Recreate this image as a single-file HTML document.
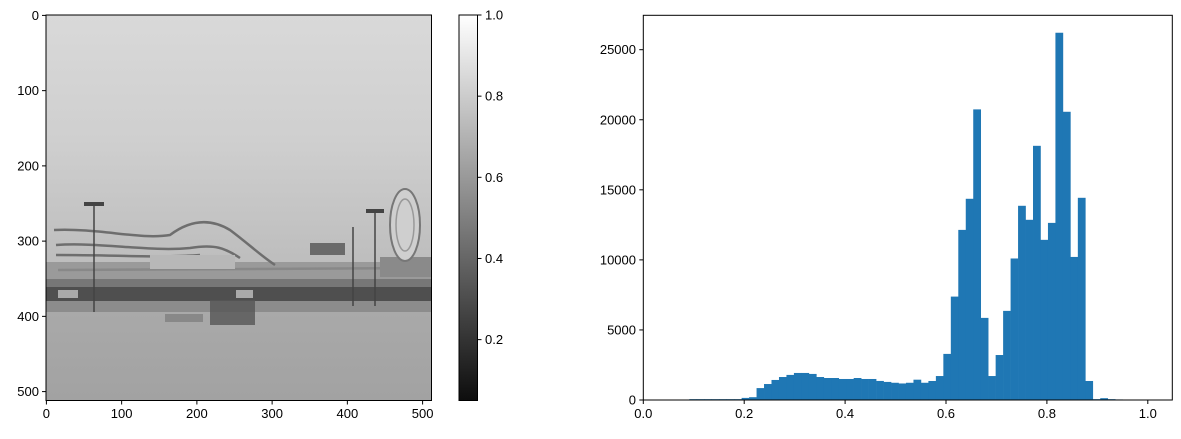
<!DOCTYPE html>
<html><head><meta charset="utf-8">
<style>
html,body{margin:0;padding:0;background:#fff;}
svg text{font-family:"Liberation Sans","DejaVu Sans",sans-serif;font-size:13px;fill:#000;}
</style></head>
<body>
<svg id="fig" width="1181" height="434" viewBox="0 0 1181 434" xmlns="http://www.w3.org/2000/svg">
<defs>
<linearGradient id="sky" x1="0" y1="0" x2="0" y2="1">
<stop offset="0" stop-color="#d9d9d9"/><stop offset="0.5" stop-color="#cfcfcf"/><stop offset="1" stop-color="#bdbdbd"/>
</linearGradient>
<linearGradient id="sand" x1="0" y1="0" x2="0" y2="1">
<stop offset="0" stop-color="#a9a9a9"/><stop offset="1" stop-color="#a2a2a2"/>
</linearGradient>
<linearGradient id="cbar" x1="0" y1="1" x2="0" y2="0">
<stop offset="0" stop-color="#0d0d0d"/><stop offset="1" stop-color="#ffffff"/>
</linearGradient>
<clipPath id="imgclip"><rect x="46" y="15" width="385.5" height="385.5"/></clipPath>
</defs>

<g clip-path="url(#imgclip)">
<rect x="46" y="15" width="386" height="250" fill="url(#sky)"/>
<rect x="46" y="262" width="386" height="25" fill="#9a9a9a"/>
<g fill="none" stroke="#6e6e6e" stroke-width="2.5">
<path d="M54 230 C100 228 140 240 170 235 C190 220 210 218 230 230 C250 245 260 255 275 265"/>
<path d="M56 245 C100 242 150 252 190 248 C215 244 225 248 240 258"/>
<path d="M56 255 C120 255 160 258 200 255"/>
<path d="M58 270 L430 268" stroke="#888"/>
</g>
<rect x="150" y="255" width="85" height="14" fill="#b8b8b8"/>
<rect x="310" y="243" width="35" height="12" fill="#6a6a6a"/>
<rect x="380" y="257" width="52" height="20" fill="#8a8a8a"/>
<g>
<ellipse cx="405" cy="225" rx="15" ry="36" fill="#cfcfcf" stroke="#777" stroke-width="2"/>
<ellipse cx="405" cy="225" rx="9" ry="26" fill="none" stroke="#999" stroke-width="1.5"/>
</g>
<rect x="46" y="279" width="386" height="10" fill="#777"/>
<rect x="46" y="287" width="386" height="14" fill="#4f4f4f"/>
<rect x="58" y="290" width="20" height="8" fill="#aaa"/>
<rect x="236" y="290" width="17" height="8" fill="#aaa"/>
<rect x="46" y="301" width="386" height="12" fill="#8c8c8c"/>
<rect x="46" y="312" width="386" height="89" fill="url(#sand)"/>
<g stroke="#444" stroke-width="1.5">
<line x1="94" y1="203" x2="94" y2="312"/><line x1="375" y1="210" x2="375" y2="306"/><line x1="353" y1="227" x2="353" y2="306"/>
</g>
<rect x="84" y="202" width="20" height="4" fill="#444"/>
<rect x="366" y="209" width="18" height="4" fill="#444"/>
<rect x="165" y="314" width="38" height="8" fill="#888"/>
<rect x="210" y="300" width="45" height="25" fill="#555" opacity="0.8"/>
</g>
<rect x="46" y="15" width="385.5" height="385.5" fill="none" stroke="#000" stroke-width="1"/>
<g id="imgticks"></g>

<rect x="459" y="15" width="18.5" height="385.5" fill="url(#cbar)" stroke="#000" stroke-width="1"/>
<g id="cbticks"></g>

<g id="hist"></g>
<rect x="643.3" y="15.3" width="529" height="384.7" fill="none" stroke="#000" stroke-width="1"/>
<g id="histticks"></g>
</svg>
<script>
const imgTicks = [0,100,200,300,400,500];
const cbTicks = [0.2,0.4,0.6,0.8,1.0];
const binStart = 0.0912;
const binWidth = 0.01481;
const counts = [60,60,60,60,60,60,60,150,200,850,1140,1430,1640,1790,1930,1930,1860,1640,1570,1570,1500,1500,1570,1500,1500,1360,1290,1230,1180,1230,1450,1230,1357,1710,3290,7380,12140,14360,20740,5860,1710,3210,6360,10100,13860,12860,18140,11430,12640,26210,20570,10210,14430,1357,60,130,60,40,30,20];
const histXTicks = [0.0,0.2,0.4,0.6,0.8,1.0];
const histYTicks = [0,5000,10000,15000,20000,25000];

const NS = 'http://www.w3.org/2000/svg';
function mk(tag, attrs, parent){const e=document.createElementNS(NS,tag);for(const k in attrs)e.setAttribute(k,attrs[k]);parent.appendChild(e);return e;}
const ix = v => 46.4 + v*0.7524;
const iy = v => 15.4 + v*0.7524;
const cy = v => 400.5 - (v-0.05)/0.95*385.5;
const hx = v => 643.3 + v*504.5;
const hy = v => 400 - v*0.014012;

const g1 = document.getElementById('imgticks');
imgTicks.forEach(v=>{
  let l=mk('line',{x1:ix(v),x2:ix(v),y1:400.5,y2:404.5,stroke:'#000'},g1);
  
  
  let t=mk('text',{x:ix(v),y:418,'text-anchor':'middle'},g1);t.textContent=v;
  
  
  let l2=mk('line',{x1:42,x2:46,y1:iy(v),y2:iy(v),stroke:'#000'},g1);
  
  
  let t2=mk('text',{x:39,y:iy(v)+4.5,'text-anchor':'end'},g1);t2.textContent=v;
  
  
});
const g2 = document.getElementById('cbticks');
cbTicks.forEach(v=>{
  let l=mk('line',{x1:477.5,x2:481.5,y1:cy(v),y2:cy(v),stroke:'#000'},g2);
  
  
  let t=mk('text',{x:485,y:cy(v)+4.5},g2);t.textContent=v.toFixed(1);
  
  
});
const g3 = document.getElementById('hist');
counts.forEach((c,i)=>{
  const x0=hx(binStart+i*binWidth), x1=hx(binStart+(i+1)*binWidth);
  let r=mk('rect',{x:x0,y:hy(c),width:x1-x0+0.3,height:400-hy(c),fill:'#1f77b4'},g3);
  
  
});
const g4 = document.getElementById('histticks');
histXTicks.forEach(v=>{
  let l=mk('line',{x1:hx(v),x2:hx(v),y1:400,y2:404,stroke:'#000'},g4);
  
  
  let t=mk('text',{x:hx(v),y:418,'text-anchor':'middle'},g4);t.textContent=v.toFixed(1);
  
  
});
histYTicks.forEach(v=>{
  let l=mk('line',{x1:639.3,x2:643.3,y1:hy(v),y2:hy(v),stroke:'#000'},g4);
  
  
  let t=mk('text',{x:636,y:hy(v)+4.5,'text-anchor':'end'},g4);t.textContent=v;
  
  
});
</script>
</body></html>
